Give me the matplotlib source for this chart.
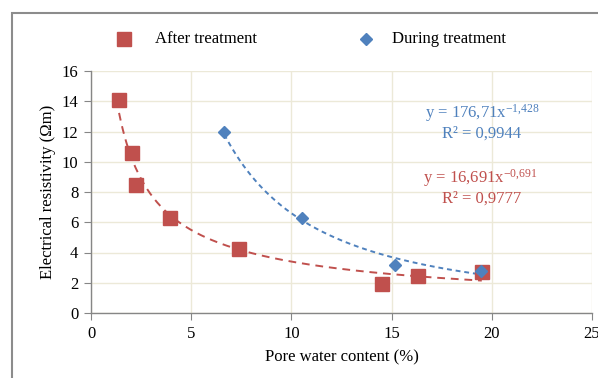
import numpy as np
import matplotlib
matplotlib.use("Agg")
import matplotlib.pyplot as plt
from matplotlib.patches import Rectangle
from matplotlib.lines import Line2D

plt.rcParams['font.family'] = ['Liberation Serif', 'DejaVu Serif']
plt.rcParams['mathtext.fontset'] = 'custom'
plt.rcParams['mathtext.rm'] = 'Liberation Serif'
plt.rcParams['mathtext.it'] = 'Liberation Serif'

# Data
after_x = [1.4, 2.05, 2.25, 3.95, 7.4, 14.5, 16.3, 19.5]
after_y = [14.1, 10.6, 8.45, 6.3, 4.25, 1.95, 2.45, 2.7]
during_x = [6.65, 10.55, 15.15, 19.45]
during_y = [12.0, 6.3, 3.2, 2.8]

# Trendline parameters (power fits shown on chart)
after_a, after_b = 16.691, -0.691
during_a, during_b = 176.71, -1.428

series_names = ['After treatment', 'During treatment']

red = '#C0504D'
blue = '#4F81BD'
grid_c = '#ECE9D8'
axis_c = '#868686'

fig = plt.figure(figsize=(5.98, 3.78), dpi=100)
ax = fig.add_axes([91/598, 1-313/378, (592-91)/598, (313-71)/378])

ax.set_xlim(0, 25)
ax.set_ylim(0, 16)
ax.set_xticks(range(0, 26, 5))
ax.set_yticks(range(0, 17, 2))
ax.grid(True, color=grid_c, lw=1.0)
ax.set_axisbelow(True)
for s in ['top', 'right']:
    ax.spines[s].set_visible(False)
for s in ['left', 'bottom']:
    ax.spines[s].set_color(axis_c)
    ax.spines[s].set_linewidth(1.0)
ax.tick_params(direction='out', length=5, color=axis_c, labelsize=12, pad=4)

# trend lines
xa = np.linspace(min(after_x), max(after_x), 200)
ax.plot(xa, after_a * xa ** after_b, color=red, lw=1.4, ls=(0, (4, 3)), zorder=2)
xd = np.linspace(min(during_x), max(during_x), 200)
ax.plot(xd, during_a * xd ** during_b, color=blue, lw=1.4, ls=(0, (2.5, 2)), zorder=2)

ax.plot(after_x, after_y, ls='none', marker='s', ms=10, color=red, mec=red, zorder=3)
ax.plot(during_x, during_y, ls='none', marker='D', ms=6.5, color=blue, mec=blue, zorder=4)

ax.set_xlabel('Pore water content (%)', fontsize=12, labelpad=6)
ax.set_ylabel('Electrical resistivity (\u03A9m)', fontsize=12, labelpad=4)

# equations
ft = fig.transFigure
ax.text(482/598, 1-113/378, r'y = 176,71x$^{\mathregular{-1{,}428}}$', transform=ft,
        color=blue, fontsize=12, ha='center', va='center')
ax.text(482/598, 1-134/378, 'R² = 0,9944', transform=ft,
        color=blue, fontsize=12, ha='center', va='center')
ax.text(480/598, 1-178/378, r'y = 16,691x$^{\mathregular{-0{,}691}}$', transform=ft,
        color=red, fontsize=12, ha='center', va='center')
ax.text(482/598, 1-199/378, 'R² = 0,9777', transform=ft,
        color=red, fontsize=12, ha='center', va='center')

# legend (placed manually)
ly = 1 - 39/378
fig.add_artist(Line2D([124/598], [ly], transform=ft, ls='none', marker='s', ms=10, color=red))
fig.text(155/598, ly, series_names[0], fontsize=12, va='center', ha='left')
fig.add_artist(Line2D([366/598], [ly], transform=ft, ls='none', marker='D', ms=6.5, color=blue))
fig.text(392/598, ly, series_names[1], fontsize=12, va='center', ha='left')

# outer frame
fig.patches.append(Rectangle((12/598, -0.1), 1.2, 1 - 13/378 + 0.1, transform=ft,
                             fill=False, ec='#8C8C8C', lw=1.5))

fig.savefig('out.png', dpi=100)
